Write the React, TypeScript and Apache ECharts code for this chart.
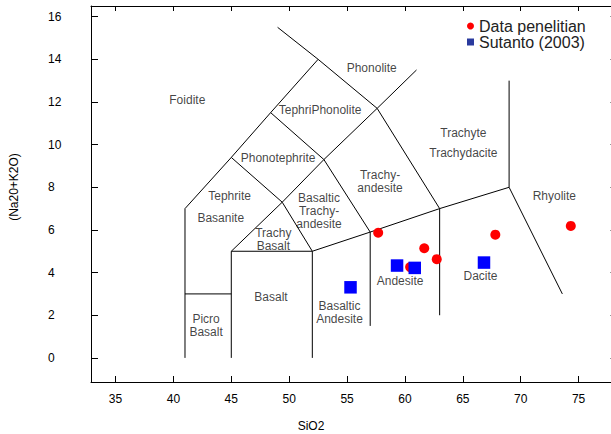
import React, { useEffect, useRef } from "react";
import * as echarts from "echarts";

// Axis ranges
const xRange = [32.88, 78.2];
const yRange = [-1.13, 16.5];
const xTickStep = 5;
const yTickStep = 2;

// Data
const dataPenelitian: number[][] = [
  [57.69, 5.87],
  [60.45, 4.26],
  [61.67, 5.14],
  [62.75, 4.63],
  [67.81, 5.78],
  [74.33, 6.19],
];
const sutanto2003: number[][] = [
  [55.3, 3.31],
  [59.32, 4.33],
  [60.85, 4.22],
  [66.83, 4.47],
];

// TAS field boundaries
const boundaryFoiditeLeft = [[41, 0], [41, 7], [45, 9.4], [48.4, 11.5], [52.5, 14]];
const boundaryPhonolite = [[49, 15.5], [52.5, 14], [57.6, 11.7], [61, 13.5]];
const boundaryPicro = [[41, 3], [45, 3]];
const boundaryBasalt = [[45, 0], [45, 5], [52, 5], [52, 0]];
const boundaryTrachyBasaltLeft = [[45, 5], [49.4, 7.3], [53, 9.3], [57.6, 11.7]];
const boundaryPhonotephrite = [[45, 9.4], [49.4, 7.3], [52, 5]];
const boundaryTephriPhonolite = [[48.4, 11.5], [53, 9.3], [57, 5.9], [57, 1.5]];
const boundaryAndesiteTop = [[52, 5], [57, 5.9], [63, 7], [69, 8]];
const boundaryTrachyte = [[57.6, 11.7], [63, 7], [63, 2]];
const boundaryRhyolite = [[69, 13], [69, 8], [73.6, 3]];

const boundaries = [
  boundaryFoiditeLeft,
  boundaryPhonolite,
  boundaryPicro,
  boundaryBasalt,
  boundaryTrachyBasaltLeft,
  boundaryPhonotephrite,
  boundaryTephriPhonolite,
  boundaryAndesiteTop,
  boundaryTrachyte,
  boundaryRhyolite,
];

// Field names and their anchor points
const fieldNames = [
  "Foidite", "Phonolite", "TephriPhonolite", "Phonotephrite", "Tephrite", "Basanite",
  "Trachy\nBasalt", "Basaltic\nTrachy-\nandesite", "Trachy-\nandesite", "Trachyte",
  "Trachydacite", "Rhyolite", "Basalt", "Picro\nBasalt", "Basaltic\nAndesite", "Andesite", "Dacite",
];
const fieldX = [41.2, 57.13, 52.67, 49.04, 44.85, 44.09, 48.63, 52.58, 57.85, 65.05, 65.05, 72.91, 48.43, 42.82, 54.35, 59.58, 66.53];
const fieldY = [12.1, 13.61, 11.63, 9.35, 7.59, 6.58, 5.56, 6.91, 8.27, 10.56, 9.63, 7.59, 2.87, 1.5, 2.11, 3.62, 3.84];

const seriesNames = ["Data penelitian", "Sutanto (2003)"];
const xAxisTitle = "SiO2";
const yAxisTitle = "(Na20+K2O)";

const FONT = "'Liberation Sans', Arial, Helvetica, sans-serif";

export default function App() {
  const ref = useRef<HTMLDivElement>(null);
  useEffect(() => {
    if (!ref.current) return;
    const chart = echarts.init(ref.current, undefined, { renderer: "svg" });

    const fmt = (step: number) => (v: number) =>
      Math.abs(v / step - Math.round(v / step)) < 1e-6 ? String(Math.round(v)) : "";

    const lineSeries = boundaries.map((b) => ({
      type: "line",
      data: b,
      symbol: "none",
      silent: true,
      lineStyle: { color: "#000", width: 1 },
      z: 2,
      legendHoverLink: false,
    }));

    const labelData = fieldNames.map((n, i) => [fieldX[i], fieldY[i], n]);

    const option: any = {
      animation: false,
      grid: { left: 91, top: 6, width: 524.6, height: 376 },
      xAxis: [
        {
          type: "value",
          min: xRange[0],
          max: xRange[1],
          minInterval: xTickStep,
          maxInterval: xTickStep,
          splitNumber: 9,
          splitLine: { show: false },
          axisLine: { show: true, onZero: false, lineStyle: { color: "#000", width: 1 } },
          axisTick: { show: true, inside: true, length: 6, lineStyle: { color: "#000" } },
          axisLabel: {
            show: true,
            margin: 11,
            color: "#000",
            fontSize: 12,
            fontFamily: FONT,
            formatter: fmt(xTickStep),
          },
        },
        {
          type: "value",
          position: "top",
          min: xRange[0],
          max: xRange[1],
          minInterval: xTickStep,
          maxInterval: xTickStep,
          splitNumber: 9,
          splitLine: { show: false },
          axisLine: { show: true, onZero: false, lineStyle: { color: "#000", width: 1 } },
          axisTick: { show: true, inside: true, length: 5, lineStyle: { color: "#000" } },
          axisLabel: { show: false },
        },
      ],
      yAxis: [
        {
          type: "value",
          min: yRange[0],
          max: yRange[1],
          minInterval: yTickStep,
          maxInterval: yTickStep,
          splitNumber: 9,
          splitLine: { show: false },
          axisLine: { show: true, onZero: false, lineStyle: { color: "#000", width: 1 } },
          axisTick: { show: true, inside: true, length: 7, lineStyle: { color: "#000" } },
          axisLabel: {
            show: true,
            margin: 43,
            align: "left",
            color: "#000",
            fontSize: 12,
            fontFamily: FONT,
            formatter: fmt(yTickStep),
          },
        },
        {
          type: "value",
          position: "right",
          min: yRange[0],
          max: yRange[1],
          minInterval: yTickStep,
          maxInterval: yTickStep,
          splitNumber: 9,
          splitLine: { show: false },
          axisLine: { show: true, onZero: false, lineStyle: { color: "#000", width: 1 } },
          axisTick: { show: true, inside: true, length: 5, lineStyle: { color: "#000" } },
          axisLabel: { show: false },
        },
      ],
      legend: {
        orient: "vertical",
        left: 467,
        top: 18,
        padding: 0,
        itemGap: 0,
        itemWidth: 7,
        itemHeight: 7,
        itemStyle: { borderWidth: 0 },
        textStyle: { fontSize: 16, fontFamily: FONT, color: "#222", lineHeight: 16 },
        data: [
          { name: seriesNames[0], icon: "circle", itemStyle: { color: "#ff0000", opacity: 1 } },
          { name: seriesNames[1], icon: "rect", itemStyle: { color: "#2a3a9e", opacity: 1 } },
        ],
      },
      graphic: [
        {
          type: "text",
          x: 311,
          y: 426,
          style: {
            text: xAxisTitle,
            fontSize: 12,
            fontFamily: FONT,
            fill: "#000",
            align: "center",
            verticalAlign: "middle",
          },
        },
        {
          type: "text",
          x: 14,
          y: 187,
          rotation: Math.PI / 2,
          style: {
            text: yAxisTitle,
            fontSize: 12,
            fontFamily: FONT,
            fill: "#000",
            align: "center",
            verticalAlign: "middle",
          },
        },
      ],
      series: [
        ...lineSeries,
        {
          type: "scatter",
          data: labelData,
          symbolSize: 1,
          silent: true,
          itemStyle: { color: "rgba(0,0,0,0)" },
          z: 3,
          label: {
            show: true,
            position: "inside",
            formatter: (p: any) => p.data[2],
            color: "#111",
            fontSize: 12,
            fontFamily: FONT,
            lineHeight: 13,
            align: "center",
            verticalAlign: "middle",
          },
        },
        {
          name: seriesNames[0],
          type: "scatter",
          data: dataPenelitian,
          symbol: "circle",
          symbolSize: 10,
          itemStyle: { color: "#ff0000", opacity: 1 },
          z: 4,
        },
        {
          name: seriesNames[1],
          type: "scatter",
          data: sutanto2003,
          symbol: "rect",
          symbolSize: 12.5,
          itemStyle: { color: "#0000ff", opacity: 1 },
          z: 5,
        },
      ],
    };
    chart.setOption(option);
    return () => chart.dispose();
  }, []);

  return (
    <div
      style={{
        position: "fixed",
        left: 0,
        top: 0,
        width: 611,
        height: 434,
        overflow: "hidden",
        background: "#fff",
      }}
    >
      <div ref={ref} style={{ width: 620, height: 434 }} />
    </div>
  );
}
